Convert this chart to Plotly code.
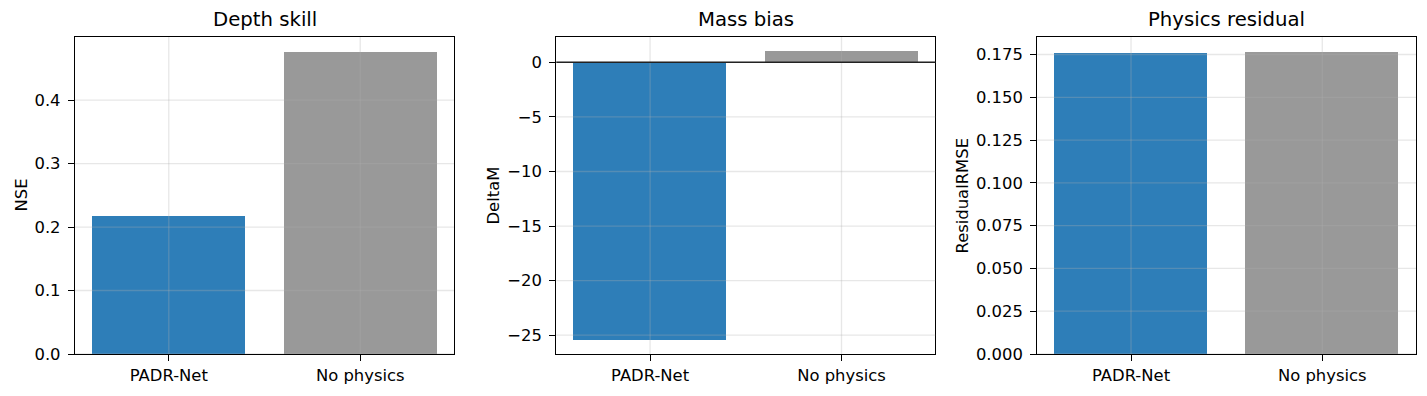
import plotly.graph_objects as go

categories = ["PADR-Net", "No physics"]
nse_values = [0.217, 0.4756]
deltam_values = [-25.4, 1.0]
residual_values = [0.1757, 0.1764]

titles = ["Depth skill", "Mass bias", "Physics residual"]
ylabels = ["NSE", "DeltaM", "ResidualRMSE"]
ticks1 = [0.0, 0.1, 0.2, 0.3, 0.4]
ticks2 = [-25, -20, -15, -10, -5, 0]
ticks3 = [0.0, 0.025, 0.05, 0.075, 0.1, 0.125, 0.15, 0.175]

bar_colors = ["#2e7eb8", "#999999"]
grid_color = "rgba(176,176,176,0.3)"

W, H = 1427, 396
xdoms = [(75 / W, 454 / W), (556.3 / W, 935.3 / W), (1037.3 / W, 1416 / W)]
ydom = (42 / H, 359 / H)
label_x = [21 / W, 493 / W, 962 / W]

FONT = "DejaVu Sans"
TICK = 16.4
TITLE = 19.7


def auto_range(vals):
    lo = min(0, min(vals))
    hi = max(0, max(vals))
    span = hi - lo
    lo2 = lo - 0.05 * span if lo < 0 else lo
    hi2 = hi + 0.05 * span if hi > 0 else hi
    return [lo2, hi2]


def fmt(v, nd):
    s = f"{abs(v):.{nd}f}" if nd > 0 else f"{abs(v):g}"
    return ("\u2212" + s) if v < 0 else s


fig = go.Figure()
series = [nse_values, deltam_values, residual_values]
tick_sets = [(ticks1, 1), (ticks2, 0), (ticks3, 3)]

for i, vals in enumerate(series):
    n = "" if i == 0 else str(i + 1)
    fig.add_trace(go.Bar(
        x=categories, y=vals, width=0.8,
        marker=dict(color=bar_colors, line=dict(width=0)),
        xaxis="x" + n, yaxis="y" + n, showlegend=False,
    ))
    tv, nd = tick_sets[i]
    axis_common = dict(
        showline=True, linecolor="black", linewidth=1.3, mirror=True,
        ticks="outside", ticklen=6, tickwidth=1.3, tickcolor="black",
        showgrid=False, zeroline=False, automargin=False,
        tickfont=dict(family=FONT, size=TICK, color="black"),
    )
    fig.update_layout(**{
        "xaxis" + n: dict(
            domain=list(xdoms[i]), anchor="y" + n,
            type="category", range=[-0.49, 1.49],
            ticklabelstandoff=0,
            **axis_common,
        ),
        "yaxis" + n: dict(
            domain=list(ydom), anchor="x" + n,
            range=auto_range(vals),
            tickvals=tv, ticktext=[fmt(v, nd) for v in tv],
            ticklabelstandoff=4,
            **axis_common,
        ),
    })
    # grid lines drawn above the bars (matplotlib style)
    for v in tv:
        fig.add_shape(type="line", xref="x" + n + " domain", yref="y" + n,
                      x0=0, x1=1, y0=v, y1=v,
                      line=dict(color=grid_color, width=1.3), layer="above")
    for c in categories:
        fig.add_shape(type="line", xref="x" + n, yref="y" + n + " domain",
                      x0=c, x1=c, y0=0, y1=1,
                      line=dict(color=grid_color, width=1.3), layer="above")
    xc = (xdoms[i][0] + xdoms[i][1]) / 2
    fig.add_annotation(
        text=titles[i], xref="paper", yref="paper", x=xc, y=(H - 20) / H,
        xanchor="center", yanchor="middle", showarrow=False,
        font=dict(family=FONT, size=TITLE, color="black"),
    )
    fig.add_annotation(
        text=ylabels[i], xref="paper", yref="paper", x=label_x[i],
        y=(ydom[0] + ydom[1]) / 2, textangle=-90,
        xanchor="center", yanchor="middle", showarrow=False,
        font=dict(family=FONT, size=TICK, color="black"),
    )

fig.add_shape(type="line", xref="x2 domain", yref="y2", x0=0, x1=1, y0=0, y1=0,
              line=dict(color="#222222", width=1.5), layer="above")

fig.update_layout(
    width=W, height=H,
    margin=dict(l=0, r=0, t=0, b=0, autoexpand=False),
    paper_bgcolor="white", plot_bgcolor="white",
    bargap=0,
    font=dict(family=FONT, color="black"),
)

fig.write_html("out.html")
